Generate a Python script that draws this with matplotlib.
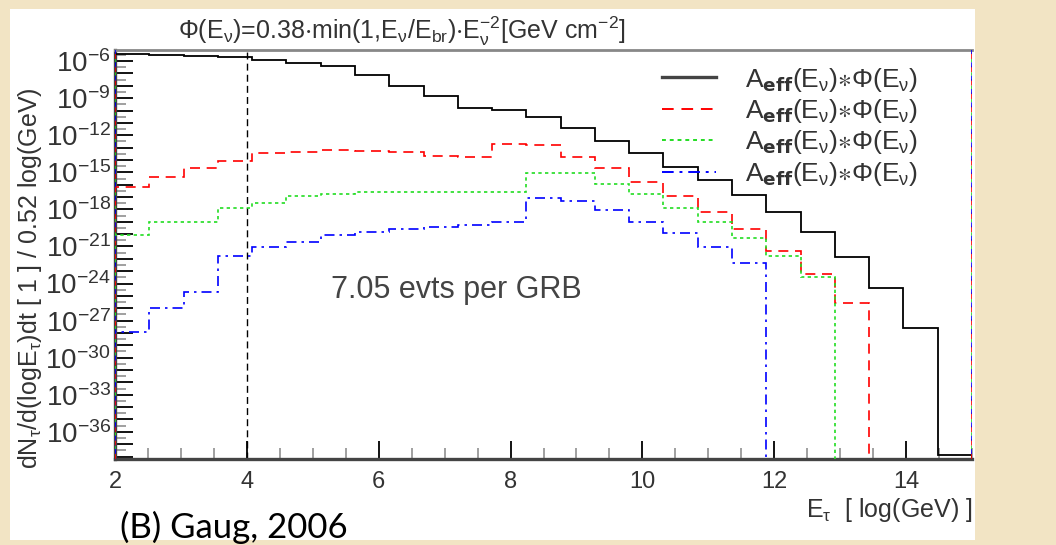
import matplotlib
matplotlib.use("Agg")
import matplotlib.pyplot as plt
from matplotlib.patches import Rectangle
from matplotlib.ticker import FixedLocator, FuncFormatter
import numpy as np

plt.rcParams['font.family'] = ['Liberation Sans', 'DejaVu Sans']
plt.rcParams['mathtext.fontset'] = 'custom'
plt.rcParams['mathtext.rm'] = 'Liberation Sans'
plt.rcParams['mathtext.default'] = 'regular'

# bin edges in log10(E / GeV), bin width 0.52
log_e_edges = [2.0, 2.52, 3.04, 3.56, 4.08, 4.6, 5.12, 5.64, 6.16, 6.68, 7.2,
               7.72, 8.24, 8.76, 9.28, 9.8, 10.32, 10.84, 11.36, 11.88, 12.4,
               12.92, 13.44, 13.96, 14.48, 15.0]

# log10 of the rate in each bin (None = empty bin)
black_log = [-5.46, -5.47, -5.57, -5.70, -5.92, -6.19, -6.40, -7.11, -8.00,
             -8.83, -9.82, -9.96, -10.55, -11.44, -12.44, -13.46, -14.53,
             -15.62, -16.83, -18.18, -19.85, -21.82, -24.38, -27.61, -37.85]
red_log = [-16.16, -15.35, -14.63, -14.06, -13.46, -13.33, -13.19, -13.30,
           -13.38, -13.68, -13.72, -12.71, -12.79, -13.79, -14.63, -15.76,
           -16.91, -18.18, -19.61, -21.34, -23.24, -25.54, None, None, None]
green_log = [-20.07, -18.99, -18.99, -17.91, -17.46, -16.91, -16.78, -16.57,
             -16.57, -16.57, -16.57, -16.57, -15.08, -15.08, -15.94, -16.78,
             -17.88, -18.99, -20.33, -21.76, -23.44, None, None, None, None]
blue_log = [-27.96, -25.99, -24.70, -21.76, -21.06, -20.61, -20.07, -19.80,
            -19.62, -19.44, -19.26, -19.02, -17.05, -17.32, -18.05, -18.99,
            -19.93, -21.06, -22.35, None, None, None, None, None, None]

y_label_exps = [-6, -9, -12, -15, -18, -21, -24, -27, -30, -33, -36]
x_ticks = [2, 4, 6, 8, 10, 12, 14]
cut_log_e = 4.0
legend_text = r'A$_{\mathbf{eff}}$(E$_{\nu}$)$\ast\Phi$(E$_{\nu}$)'

YLO, YHI = -38.2, -5.1
FLOOR = 1e-45

fig = plt.figure(figsize=(10.56, 5.45), dpi=100)
fig.patch.set_facecolor('#f2e4c4')
fig.add_artist(Rectangle((10 / 1056, 1 - 540 / 545), 965 / 1056, 531 / 545,
                         transform=fig.transFigure, facecolor='white',
                         edgecolor='none', zorder=0))

ax = fig.add_axes([115 / 1056, 1 - 459 / 545, 857 / 1056, 409 / 545])
ax.set_yscale('log')


def to_vals(logs):
    return np.array([FLOOR if v is None else 10.0 ** v for v in logs])


series = [
    (black_log, 'black', '-', 1.3),
    (red_log, 'red', (0, (6, 4)), 1.2),
    (green_log, '#22dd22', (0, (2, 2)), 1.2),
    (blue_log, 'blue', (0, (6, 3, 1.5, 3)), 1.2),
]
handles = []
for logs, col, ls, lw in series:
    ax.stairs(to_vals(logs), log_e_edges, baseline=FLOOR, color=col,
              linestyle=ls, linewidth=lw, zorder=3)
    h, = ax.plot([], [], color=col if col != 'black' else '#444444',
                 linestyle=ls, linewidth=2.4 if col == 'black' else 1.4)
    handles.append(h)

# colored edges ROOT leaves along the frame
for col, ls in [('red', (0, (4, 4))), ('#22dd22', (2, (2, 6))),
                ('blue', (5, (3, 5)))]:
    ax.axvline(log_e_edges[0], color=col, linestyle=ls, linewidth=1.2, zorder=4)
    ax.axvline(log_e_edges[-1], color=col, linestyle=ls, linewidth=1.2, zorder=4)

ax.axvline(cut_log_e, color='black', linestyle=(0, (5, 3)), linewidth=1.0,
           zorder=2)

ax.set_xlim(log_e_edges[0], log_e_edges[-1])
ax.set_ylim(10.0 ** YLO, 10.0 ** YHI)

ax.xaxis.set_major_locator(FixedLocator(x_ticks))
ax.xaxis.set_minor_locator(FixedLocator(np.arange(2, 15.01, 0.5)))
decades = np.arange(-38, -5)
ax.yaxis.set_major_locator(FixedLocator(10.0 ** decades))
ax.yaxis.set_minor_locator(FixedLocator(10.0 ** (decades + 0.5)))


def ylab(v, pos):
    e = int(round(np.log10(v)))
    if e in y_label_exps:
        return r'10$^{\mathregular{%d}}$' % e
    return ''


ax.yaxis.set_major_formatter(FuncFormatter(ylab))
ax.yaxis.set_minor_formatter(FuncFormatter(lambda v, p: ''))
ax.tick_params(axis='both', which='major', direction='in', length=13,
               width=1.3, color='black', labelcolor='#333333')
ax.tick_params(axis='both', which='minor', direction='in', length=8,
               width=1.3, color='#999999')
ax.tick_params(axis='x', which='major', pad=9, labelsize=17)
ax.tick_params(axis='y', which='major', pad=3, labelsize=20)

for side in ['left', 'bottom']:
    ax.spines[side].set_linewidth(2.4)
    ax.spines[side].set_color('#444444')
ax.spines['top'].set_linewidth(2.0)
ax.spines['top'].set_color('#888888')
ax.spines['right'].set_visible(False)

ax.text(0.398, 0.413, '7.05 evts per GRB', transform=ax.transAxes,
        fontsize=22, color='#444444', ha='center', va='center')

ax.legend(handles, [legend_text] * 4, loc='upper left',
          bbox_to_anchor=(0.638, 0.962), frameon=False, fontsize=19,
          handlelength=2.05, handletextpad=1.1, labelspacing=0.13,
          borderpad=0.0, borderaxespad=0.0, labelcolor='#333333')

fig.text(178 / 1056, 1 - 31 / 545,
         r'$\Phi$(E$_{\nu}$)=0.38$\cdot$min(1,E$_{\nu}$/E$_{br}$)$\cdot$'
         r'E$_{\nu}^{-2}$[GeV cm$^{-2}$]',
         fontsize=18, color='#333333', ha='left', va='center')

fig.text(30 / 1056, 1 - 278 / 545,
         r'dN$_{\tau}$/d(logE$_{\tau}$)dt [ 1 ] / 0.52 log(GeV)',
         rotation=90, fontsize=18, color='#333333', ha='center', va='center')

fig.text(972 / 1056, 1 - 510 / 545, r'E$_{\tau}$  [ log(GeV) ]',
         fontsize=18, color='#333333', ha='right', va='center')

fig.text(120 / 1056, 1 - 527 / 545, '(B) Gaug, 2006', family='Lato',
         fontsize=25, color='black', ha='left', va='center')

fig.savefig('out.png', dpi=100, facecolor=fig.get_facecolor())
